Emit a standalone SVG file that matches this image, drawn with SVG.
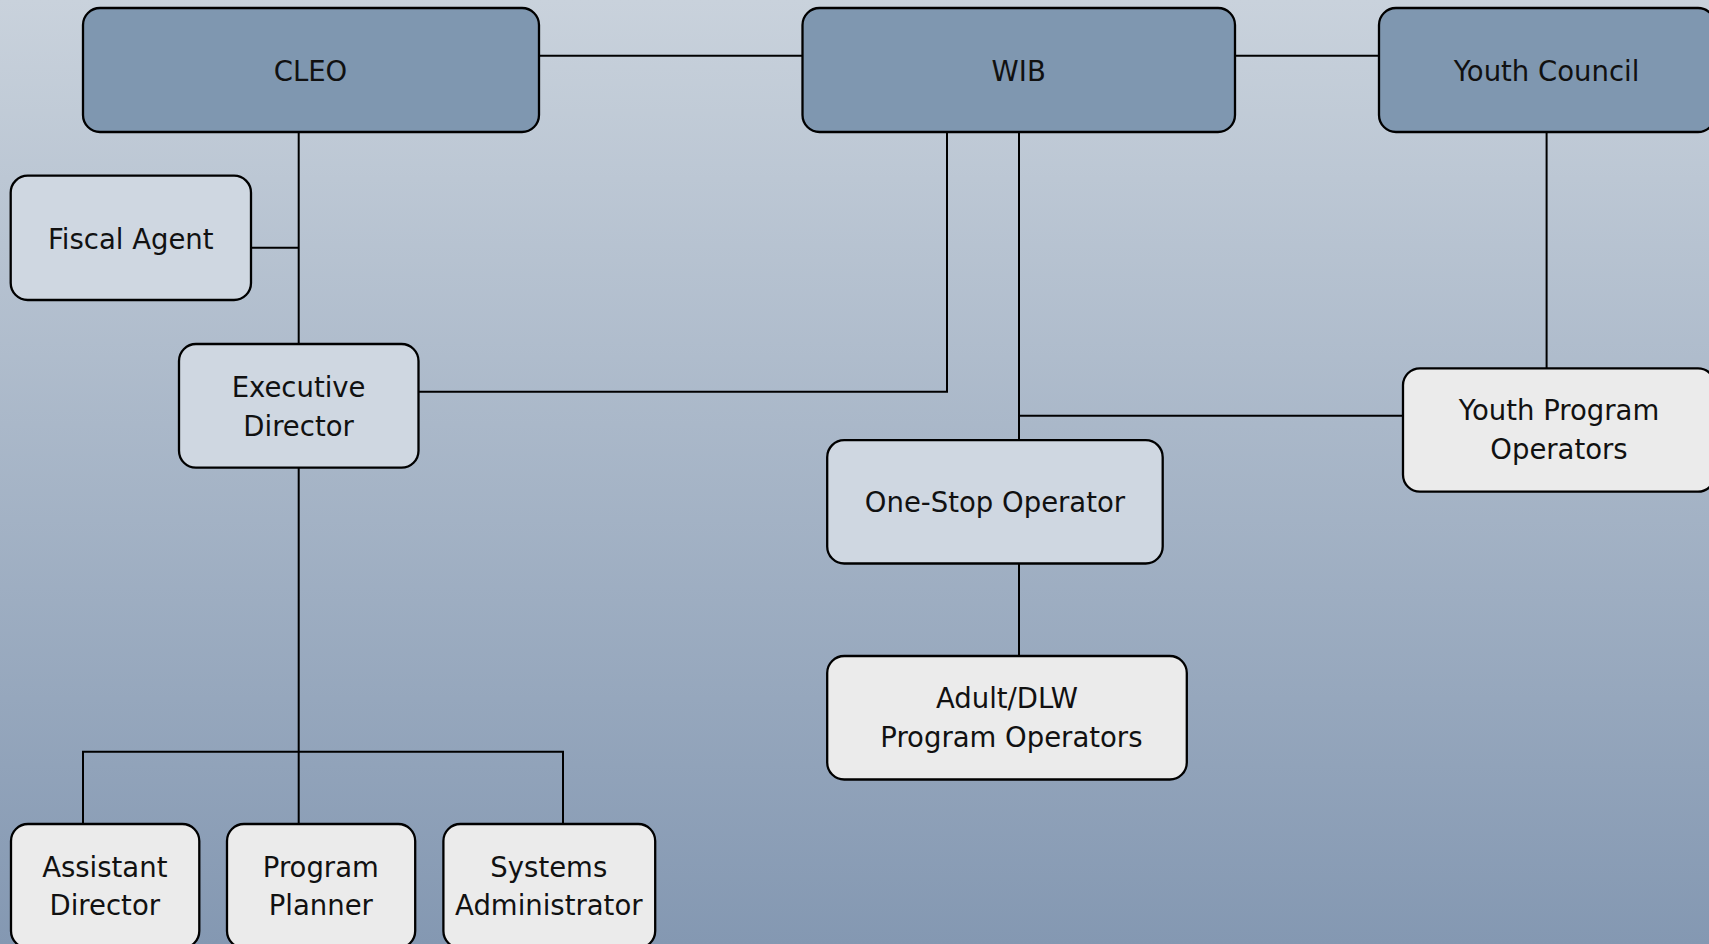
<svg xmlns="http://www.w3.org/2000/svg" width="1709" height="944" viewBox="0 0 1709 944">
<defs>
<linearGradient id="bg" x1="0" y1="0" x2="0" y2="1">
<stop offset="0" stop-color="#c9d2dc"/>
<stop offset="1" stop-color="#8498b2"/>
</linearGradient>
<style>
.box{stroke:#000;stroke-width:2.3}
.top{fill:#7f97b0}
.mid{fill:#cfd7e1}
.low{fill:#ebebeb}
.t{font-family:"DejaVu Sans",Verdana,sans-serif;font-size:27.5px;fill:#111;text-anchor:middle}
.c{stroke:#000;stroke-width:2;fill:none}
</style>
</defs>
<rect x="0" y="0" width="1709" height="944" fill="url(#bg)"/>
<g id="connectors">
<line class="c" x1="539" y1="55.7" x2="802.5" y2="55.7"/>
<line class="c" x1="1235" y1="55.7" x2="1379" y2="55.7"/>
<line class="c" x1="298.7" y1="128" x2="298.7" y2="344"/>
<line class="c" x1="251" y1="247.7" x2="298.7" y2="247.7"/>
<polyline class="c" points="947,128 947,391.7 418.5,391.7"/>
<line class="c" x1="1019" y1="128" x2="1019" y2="440"/>
<line class="c" x1="1019" y1="415.7" x2="1403" y2="415.7"/>
<line class="c" x1="1546.6" y1="128" x2="1546.6" y2="368.3"/>
<line class="c" x1="1019" y1="560" x2="1019" y2="656"/>
<line class="c" x1="298.7" y1="464" x2="298.7" y2="824"/>
<polyline class="c" points="83,824 83,751.7 563,751.7 563,824"/>
</g>
<g id="cleo"><rect class="box top" x="83" y="8" width="456" height="124" rx="17"/><text class="t" x="310.5" y="80.8">CLEO</text></g>
<g id="wib"><rect class="box top" x="802.5" y="8" width="432.5" height="124" rx="17"/><text class="t" x="1018.7" y="80.8">WIB</text></g>
<g id="youth-council"><rect class="box top" x="1379" y="8" width="336" height="124" rx="17"/><text class="t" x="1546.5" y="80.8">Youth Council</text></g>
<g id="fiscal-agent"><rect class="box mid" x="10.7" y="175.7" width="240.3" height="124.3" rx="17"/><text class="t" x="130.8" y="249">Fiscal Agent</text></g>
<g id="executive-director"><rect class="box mid" x="179" y="344" width="239.5" height="123.7" rx="17"/><text class="t" x="298.6" y="397.3">Executive</text><text class="t" x="298.6" y="435.7">Director</text></g>
<g id="one-stop-operator"><rect class="box mid" x="827.2" y="440.2" width="335.5" height="123.3" rx="17"/><text class="t" x="995" y="512.2">One-Stop Operator</text></g>
<g id="youth-program-operators"><rect class="box low" x="1403" y="368.3" width="312" height="123.4" rx="17"/><text class="t" x="1559" y="420.2">Youth Program</text><text class="t" x="1559" y="458.5">Operators</text></g>
<g id="adult-dlw"><rect class="box low" x="827.2" y="656" width="359.6" height="123.5" rx="17"/><text class="t" x="1007" y="708.3">Adult/DLW</text><text class="t" x="1011.4" y="747.2">Program Operators</text></g>
<g id="assistant-director"><rect class="box low" x="11" y="824" width="188.3" height="124" rx="17"/><text class="t" x="104.8" y="877">Assistant</text><text class="t" x="104.8" y="915.3">Director</text></g>
<g id="program-planner"><rect class="box low" x="227" y="824" width="188.2" height="124" rx="17"/><text class="t" x="320.8" y="877">Program</text><text class="t" x="320.8" y="915.3">Planner</text></g>
<g id="systems-administrator"><rect class="box low" x="443.4" y="824" width="211.8" height="124" rx="17"/><text class="t" x="548.8" y="877">Systems</text><text class="t" x="548.8" y="915.3">Administrator</text></g>
</svg>
